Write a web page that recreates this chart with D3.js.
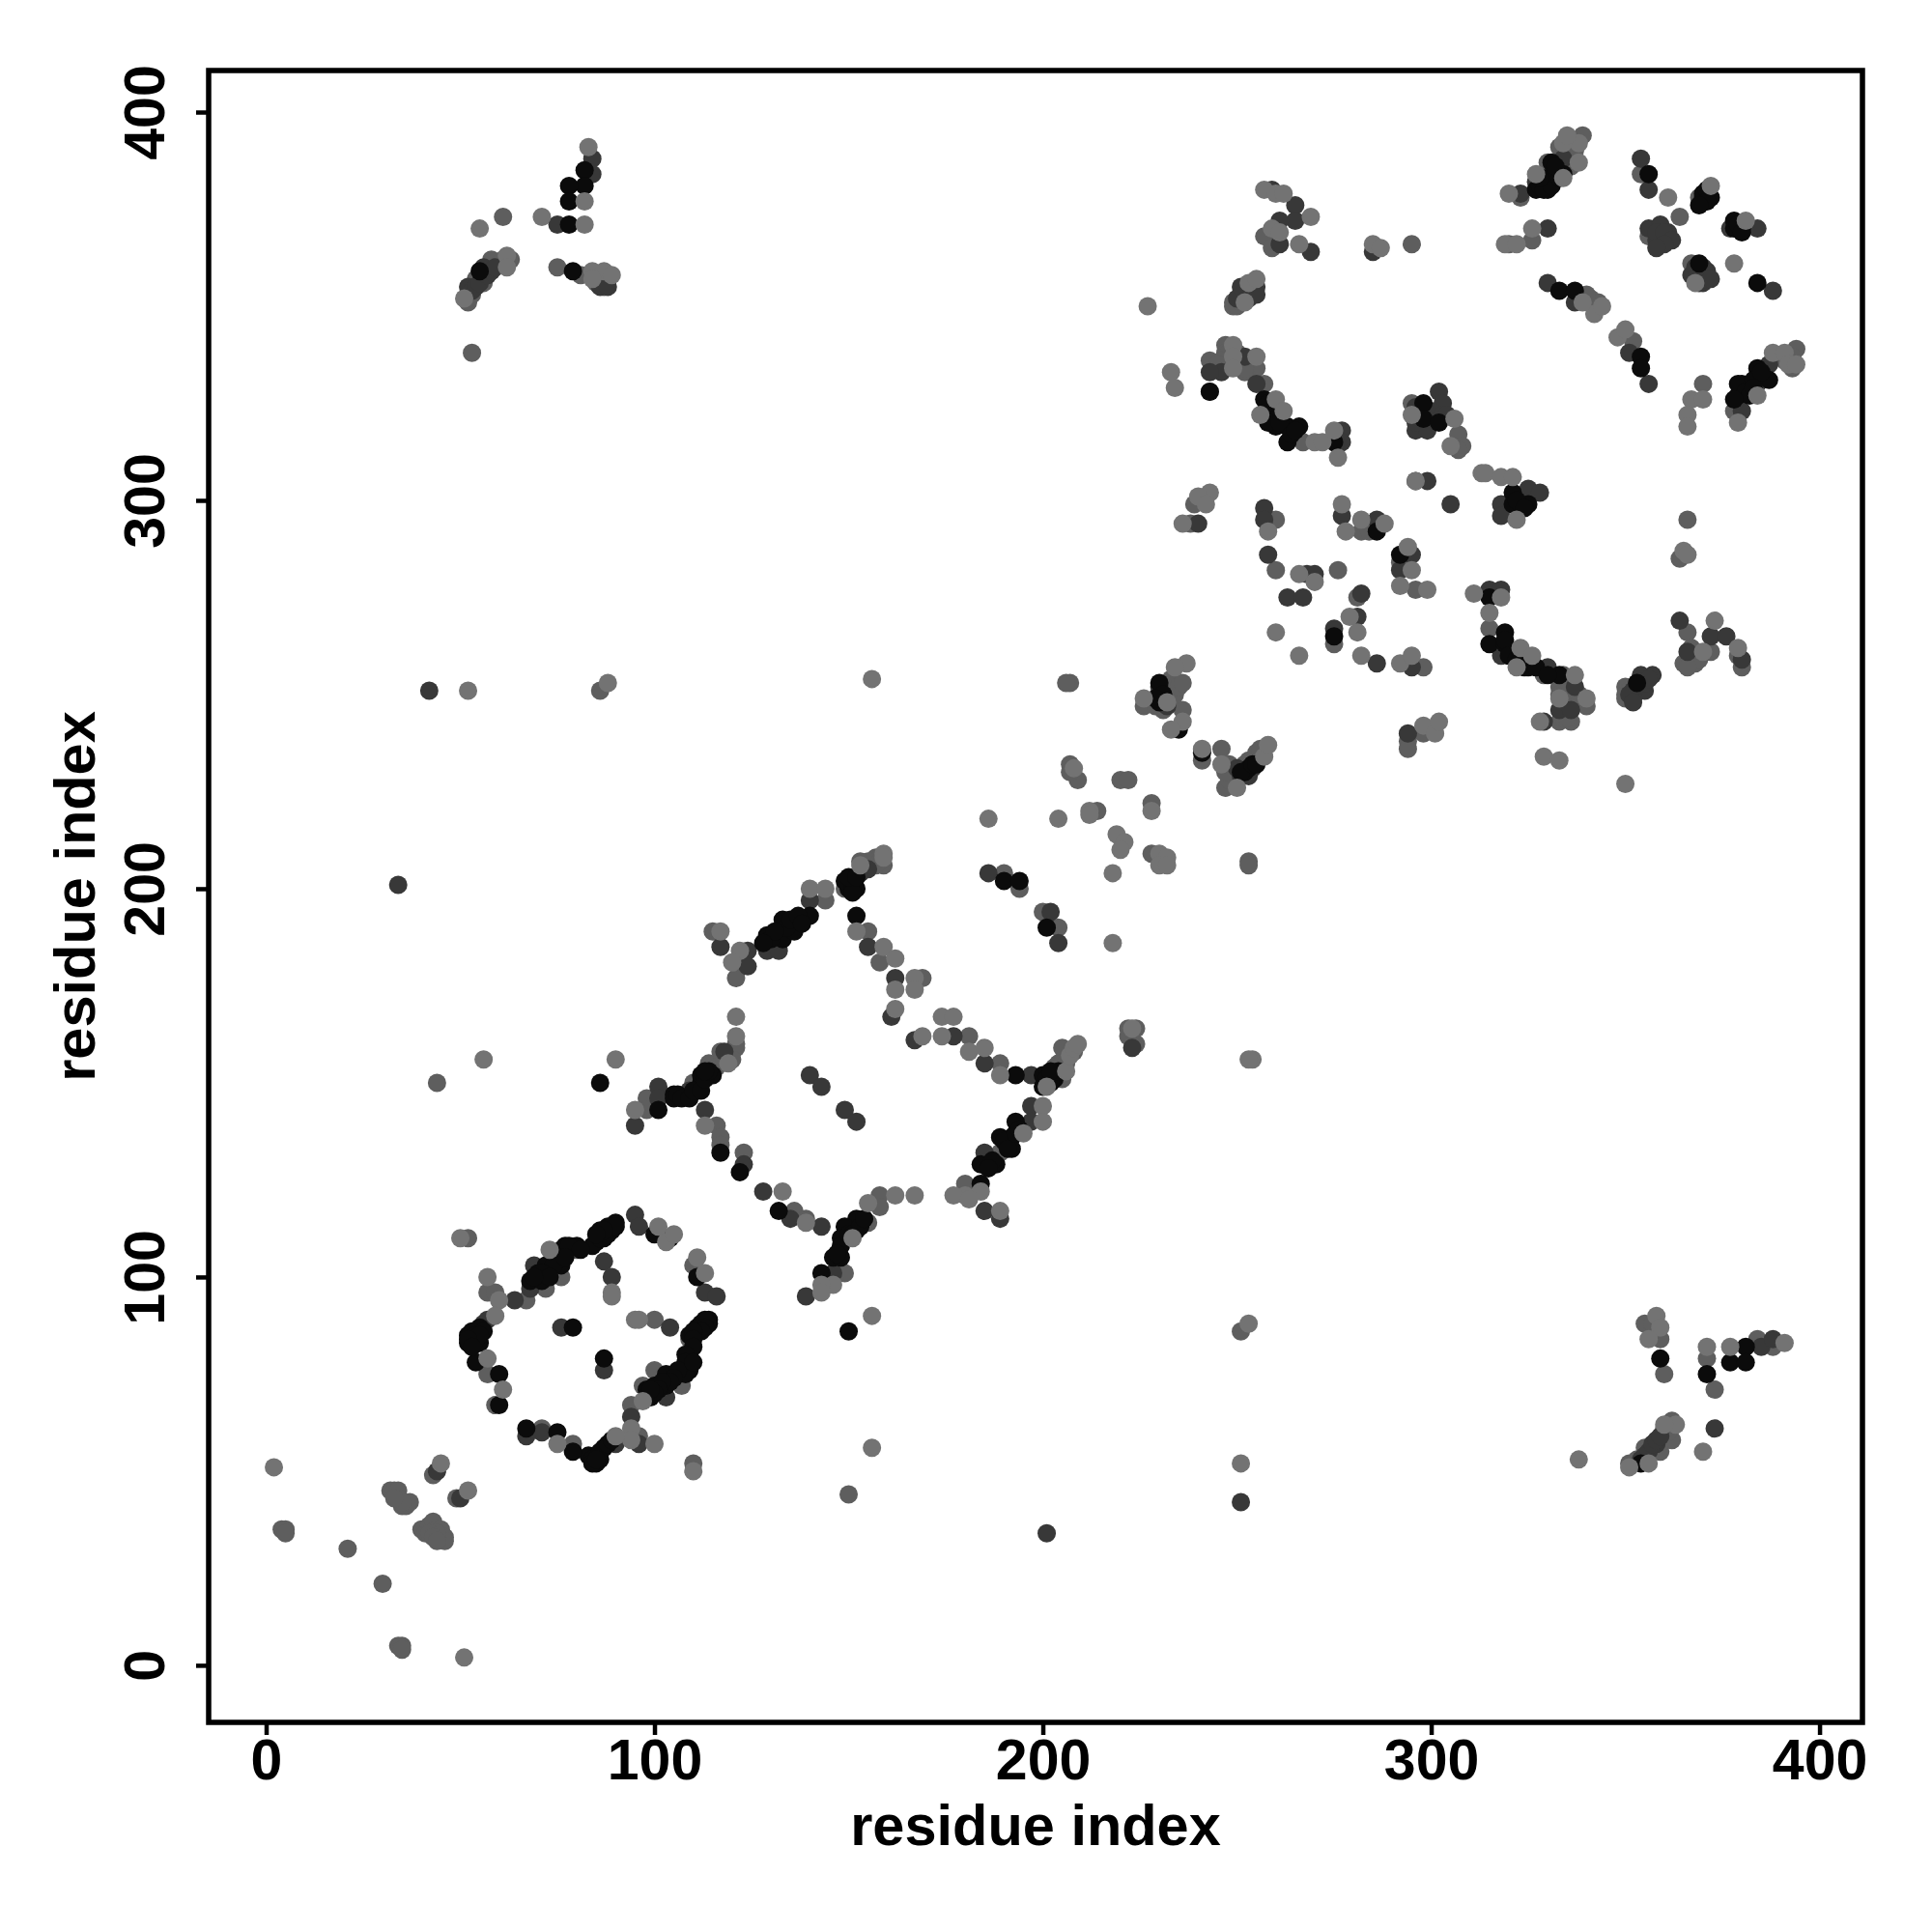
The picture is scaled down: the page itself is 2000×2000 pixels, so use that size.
<!DOCTYPE html>
<html><head><meta charset="utf-8"><title>Residue contact map</title>
<script src="https://cdnjs.cloudflare.com/ajax/libs/d3/7.8.5/d3.min.js"></script>
<style>html,body{margin:0;padding:0;background:#fff}svg{display:block}</style></head>
<body><div id="chart"></div>
<script>
const tickValues = [0, 100, 200, 300, 400];
const axisTitle = "residue index";
const contactsMid = [[34,5],[35,5],[35,4],[4,35],[5,35],[5,34],[21,30],[30,21],[43,49],[49,43],[32,45],[33,45],[34,45],[34,43],[35,41],[36,41],[37,42],[35,42],[33,43],[40,35],[41,34],[42,36],[43,37],[44,35],[45,35],[45,33],[46,33],[46,32],[44,34],[42,34],[43,33],[44,32],[110,52],[52,110],[57,96],[59,96],[67,94],[72,97],[76,100],[80,107],[110,103],[100,89],[109,84],[107,72],[100,76],[97,72],[94,67],[96,59],[79,57],[71,61],[59,67],[57,75],[115,189],[121,181],[121,177],[144,197],[149,200],[153,207],[156,207],[159,206],[157,208],[155,189],[158,181],[169,177],[181,162],[189,155],[203,154],[204,155],[205,159],[98,146],[98,143],[114,155],[117,158],[121,159],[110,150],[116,139],[117,136],[117,134],[123,132],[136,117],[139,115],[158,121],[158,118],[155,114],[149,101],[180,124],[189,132],[190,204],[194,200],[200,194],[204,190],[207,253],[206,253],[232,251],[233,254],[226,247],[231,246],[236,246],[241,233],[246,236],[248,232],[254,233],[247,226],[207,232],[209,228],[207,230],[220,228],[222,228],[228,222],[214,220],[228,209],[253,207],[253,206],[257,368],[259,365],[295,366],[249,351],[247,340],[255,334],[252,333],[243,336],[243,328],[257,330],[267,315],[295,325],[307,317],[308,314],[307,313],[239,299],[320,366],[323,378],[330,387],[339,394],[326,367],[341,352],[352,341],[354,384],[364,373],[356,368],[369,378],[367,361],[369,358],[370,330],[378,323],[382,329],[394,339],[238,294],[260,295],[260,282],[276,282],[281,275],[282,292],[284,292],[292,284],[296,277],[275,263],[298,257],[294,238],[294,236],[298,240],[315,267],[329,255],[334,255],[333,252],[337,249],[340,247],[333,243],[336,243],[366,295],[364,285],[366,266],[372,261],[366,259],[368,258],[379,260],[380,257],[350,252],[350,249],[75,360],[61,373],[56,356],[58,362],[63,362],[54,357],[355,88],[359,84],[360,75],[371,79],[373,71],[384,84],[388,82],[362,63],[362,58],[359,55],[355,56],[44,150],[251,86],[150,44],[53,338],[86,251]];
const contactsMidDense = [[205,155],[206,155],[207,158],[205,151],[208,158],[119,157],[120,158],[116,154],[118,156],[121,160],[120,156],[156,206],[157,206],[158,208],[154,205],[155,207],[158,207],[229,247],[231,247],[233,249],[234,250],[235,252],[236,253],[248,228],[247,230],[252,232],[253,233],[255,235],[256,236],[333,250],[335,250],[335,253],[334,247],[338,250],[334,244],[335,244],[365,258],[367,260],[368,260],[369,259],[367,262],[366,257],[333,391],[336,391],[336,393],[337,390],[335,388],[336,386],[247,338],[248,338],[250,338],[251,336],[252,334],[246,336],[247,334],[245,335],[391,336],[392,337],[393,337],[393,334],[342,350],[343,351],[340,353],[338,352],[351,249],[350,250],[351,251],[249,350],[250,350],[251,351],[353,53],[352,52],[351,52],[52,351],[53,353],[52,352],[360,61],[361,62],[361,60],[60,361],[61,362],[62,361],[224,164],[222,162],[224,160],[222,164],[81,358],[85,356],[87,355],[357,86],[358,87],[357,88]];
const contactsDark = [[44,50],[50,43],[64,94],[68,97],[69,103],[95,116],[96,113],[113,96],[116,95],[87,104],[89,100],[104,87],[76,87],[87,76],[103,69],[94,64],[96,57],[90,57],[71,60],[67,59],[56,88],[57,89],[117,185],[124,184],[124,180],[129,184],[132,184],[140,197],[153,204],[155,205],[155,185],[162,177],[161,167],[167,161],[177,162],[185,155],[197,152],[95,139],[101,149],[101,146],[109,148],[118,158],[140,152],[143,149],[149,143],[152,140],[113,143],[123,129],[128,122],[135,115],[143,113],[146,101],[139,95],[197,144],[197,140],[185,132],[185,117],[189,115],[186,204],[202,194],[204,186],[230,250],[250,231],[223,159],[259,380],[265,376],[265,372],[261,372],[261,366],[269,364],[285,364],[250,352],[251,355],[255,355],[252,337],[246,333],[243,333],[255,330],[277,318],[277,315],[302,328],[303,325],[296,318],[299,318],[299,305],[305,299],[323,379],[327,382],[334,388],[330,370],[330,356],[337,351],[351,338],[356,330],[354,388],[356,380],[356,370],[359,371],[361,369],[358,367],[377,370],[384,370],[371,359],[367,358],[370,356],[388,354],[380,323],[387,335],[384,330],[240,294],[257,298],[257,295],[258,286],[268,281],[270,281],[263,275],[267,275],[286,295],[296,305],[295,286],[292,282],[277,296],[282,276],[281,270],[275,267],[286,258],[295,257],[294,240],[325,303],[328,302],[318,299],[318,296],[315,277],[318,277],[318,260],[323,259],[330,257],[337,252],[333,246],[336,246],[329,243],[364,269],[372,265],[376,265],[366,261],[380,259],[357,255],[354,255],[355,251],[352,251],[84,388],[84,384],[75,371],[86,355],[88,355],[52,355],[56,360],[42,251],[34,201],[201,34],[251,42],[358,57],[385,82],[388,84],[373,61]];
const contactsDarkDense = [[53,354],[54,355],[55,356],[57,358],[58,359],[59,360],[354,53],[355,54],[356,55],[357,57],[358,58],[359,59],[353,252],[355,253],[356,254],[352,249],[351,250],[352,248],[253,352],[254,354],[255,353],[296,324],[297,323],[297,321],[296,320],[300,323],[303,322],[304,322],[358,369],[360,369],[362,367],[360,366],[358,365],[368,360],[370,360],[369,356],[371,357],[372,357],[230,252],[232,247],[231,249],[253,229],[254,231],[251,229]];
const contactsBlack = [[68,99],[71,99],[72,103],[76,103],[76,107],[80,108],[85,109],[87,110],[89,112],[90,114],[88,113],[86,112],[100,111],[104,110],[111,100],[79,87],[87,79],[114,89],[114,88],[112,88],[111,87],[109,85],[109,80],[109,76],[103,75],[103,72],[100,72],[99,69],[87,56],[85,54],[85,52],[83,54],[79,55],[75,60],[67,61],[60,67],[60,75],[54,78],[55,83],[52,85],[52,83],[55,87],[129,188],[133,187],[133,192],[136,191],[136,189],[140,193],[150,200],[150,202],[152,200],[152,193],[193,152],[200,152],[200,149],[203,151],[101,143],[105,147],[105,146],[111,148],[112,150],[112,152],[115,152],[117,132],[122,127],[132,117],[152,115],[152,112],[149,113],[148,110],[146,105],[148,105],[143,101],[193,140],[192,136],[192,133],[189,136],[188,129],[184,129],[184,124],[190,202],[194,202],[201,190],[230,253],[230,248],[235,241],[241,235],[253,231],[252,230],[243,328],[257,326],[259,323],[260,319],[263,319],[266,319],[263,315],[275,315],[298,325],[298,321],[302,320],[327,380],[330,380],[330,383],[331,387],[334,384],[333,354],[337,354],[354,337],[354,334],[356,384],[370,378],[372,378],[370,377],[378,372],[380,370],[369,361],[384,356],[379,327],[380,330],[387,331],[384,334],[286,292],[292,286],[275,265],[321,302],[321,299],[325,299],[315,275],[315,263],[319,266],[319,263],[325,257],[333,255],[353,253],[82,385],[82,381],[78,381],[78,377],[78,371],[79,359],[55,359],[86,150],[150,86],[359,79],[371,75],[377,78],[381,82],[381,78],[354,52]];
const contactsBlackDense = [[84,108],[86,110],[88,111],[89,113],[90,113],[87,112],[85,111],[77,108],[78,108],[81,107],[75,105],[74,103],[70,101],[71,101],[73,100],[69,100],[77,105],[113,89],[113,87],[112,86],[110,86],[110,84],[110,82],[108,80],[108,78],[108,75],[106,76],[105,74],[104,73],[102,73],[101,71],[100,70],[98,71],[99,71],[110,78],[86,53],[84,53],[86,55],[88,57],[89,58],[84,52],[85,53],[53,84],[53,86],[54,85],[54,84],[56,86],[55,85],[52,84],[53,82],[149,202],[151,201],[151,199],[150,203],[152,203],[106,147],[107,146],[109,146],[110,148],[112,148],[113,151],[114,153],[113,153],[134,190],[135,192],[137,193],[138,191],[130,187],[131,189],[128,186],[201,151],[202,150],[204,153],[202,153],[190,135],[187,130],[186,128],[191,133],[193,137],[194,138],[148,108],[147,106],[150,111],[151,111],[153,113],[154,115],[328,381],[329,380],[331,381],[332,384],[333,383],[328,383],[332,386],[379,330],[381,328],[382,327],[383,331],[385,333],[383,329],[378,326],[370,379],[371,380],[371,377],[369,376],[378,370],[379,371],[380,369],[258,320],[258,325],[261,320],[264,317],[265,318],[319,264],[320,260],[322,259],[324,257],[327,257],[330,255],[231,250],[229,249],[251,230],[254,232],[255,232],[322,300],[324,298]];
const contactsLight = [[2,51],[45,52],[52,45],[51,2],[110,50],[50,110],[57,100],[60,94],[73,107],[101,113],[103,109],[105,111],[111,105],[113,101],[89,96],[89,95],[95,89],[96,89],[61,71],[57,79],[59,90],[75,57],[94,61],[94,58],[90,59],[97,68],[100,57],[117,189],[122,184],[120,181],[140,200],[144,200],[153,206],[159,209],[159,208],[152,189],[159,185],[162,182],[162,174],[167,177],[167,174],[162,169],[169,162],[174,162],[174,167],[177,167],[181,158],[185,159],[189,152],[201,149],[206,153],[207,157],[208,159],[209,160],[95,143],[119,155],[121,162],[121,167],[113,139],[133,122],[139,114],[167,121],[162,121],[155,119],[151,110],[146,98],[143,98],[143,96],[200,144],[200,140],[195,137],[184,122],[180,121],[177,121],[181,120],[189,117],[237,258],[234,257],[226,249],[232,248],[236,243],[233,241],[241,236],[246,232],[257,234],[258,237],[250,226],[208,231],[228,220],[212,220],[212,219],[219,214],[221,212],[220,210],[230,209],[232,208],[230,206],[232,206],[186,218],[204,218],[218,204],[218,186],[223,164],[254,156],[227,350],[257,380],[260,379],[262,379],[269,373],[259,370],[261,369],[266,366],[285,366],[287,365],[252,351],[253,356],[255,357],[249,340],[249,337],[249,334],[255,337],[233,333],[234,329],[260,326],[262,323],[256,322],[270,315],[272,315],[275,318],[276,311],[295,322],[306,321],[305,314],[296,305],[313,307],[277,299],[243,302],[240,301],[242,299],[320,379],[327,384],[334,383],[338,387],[338,392],[334,392],[335,394],[319,366],[322,366],[326,370],[342,348],[344,350],[339,351],[348,342],[350,344],[361,378],[372,381],[381,372],[378,361],[368,356],[367,326],[370,326],[366,322],[366,319],[379,320],[384,327],[388,338],[391,338],[392,335],[394,335],[236,294],[258,292],[266,281],[270,279],[260,266],[266,260],[278,292],[282,295],[288,294],[294,288],[295,282],[292,278],[299,277],[279,270],[281,266],[282,260],[292,258],[295,260],[298,242],[301,240],[302,243],[314,307],[318,306],[321,306],[322,295],[311,276],[318,275],[315,271],[323,262],[322,257],[326,260],[337,255],[333,249],[340,249],[328,243],[329,234],[333,233],[365,287],[366,286],[373,269],[370,261],[379,262],[350,227],[83,391],[82,377],[71,373],[82,371],[55,370],[84,359],[87,359],[89,358],[84,357],[51,352],[62,363],[62,360],[358,90],[359,87],[356,84],[371,82],[370,55],[377,82],[391,83],[363,62],[360,62],[356,52],[351,51],[52,251],[88,253],[56,156],[90,156],[156,254],[253,156],[156,90],[156,56],[253,88],[251,52],[338,53]];

const width = 2000, height = 2000;
const shades = {mid:"#5e5e5e", dark:"#383838", black:"#0b0b0b", light:"#737373"};
const frame = {left:216, right:1928, top:73, bottom:1783};
const x = d3.scaleLinear().domain([-14.8, 410.8]).range([216, 1927]);
const y = d3.scaleLinear().domain([-14.7, 410.7]).range([1783, 73]);

const svg = d3.select("#chart").append("svg").attr("width", width).attr("height", height)
  .style("font-family", "'Liberation Sans', Arial, sans-serif").style("font-weight", "bold");
svg.append("rect").attr("width", width).attr("height", height).attr("fill", "#fff");

[[contactsMid,shades.mid],[contactsMidDense,shades.mid],[contactsDark,shades.dark],[contactsDarkDense,shades.dark],[contactsBlack,shades.black],[contactsBlackDense,shades.black],[contactsLight,shades.light]].forEach(([pts,c]) => {
  svg.append("g").selectAll("circle").data(pts).join("circle")
    .attr("cx", d => x(d[0])).attr("cy", d => y(d[1])).attr("r", 9.5).attr("fill", c);
});

svg.append("rect").attr("x", frame.left).attr("y", frame.top)
  .attr("width", frame.right-frame.left).attr("height", frame.bottom-frame.top)
  .attr("fill", "none").attr("stroke", "#000").attr("stroke-width", 5.5);

const gx = svg.append("g").attr("transform", `translate(0,${frame.bottom})`)
  .call(d3.axisBottom(x).tickValues(tickValues).tickFormat(d3.format("d")).tickSize(13).tickPadding(4));
gx.select(".domain").remove();
gx.selectAll("line").attr("stroke", "#000").attr("stroke-width", 4.5);
gx.selectAll("text").attr("font-size", 59).attr("fill", "#000").attr("font-family", "inherit");

const gy = svg.append("g").attr("transform", `translate(${frame.left},0)`)
  .call(d3.axisLeft(y).tickValues(tickValues).tickFormat(d3.format("d")).tickSize(13));
gy.select(".domain").remove();
gy.selectAll("line").attr("stroke", "#000").attr("stroke-width", 4.5);
gy.selectAll("text").attr("font-size", 59).attr("fill", "#000").attr("font-family", "inherit")
  .attr("text-anchor", "middle").attr("dy", 0).attr("x", 0).attr("y", 0)
  .attr("transform", "translate(-46,0) rotate(-90)");

svg.append("text").attr("x", (frame.left+frame.right)/2).attr("y", 1910)
  .attr("text-anchor", "middle").attr("font-size", 59.5).text(axisTitle);
svg.append("text").attr("transform", `translate(98,${(frame.top+frame.bottom)/2}) rotate(-90)`)
  .attr("text-anchor", "middle").attr("font-size", 59.5).text(axisTitle);
</script></body></html>
